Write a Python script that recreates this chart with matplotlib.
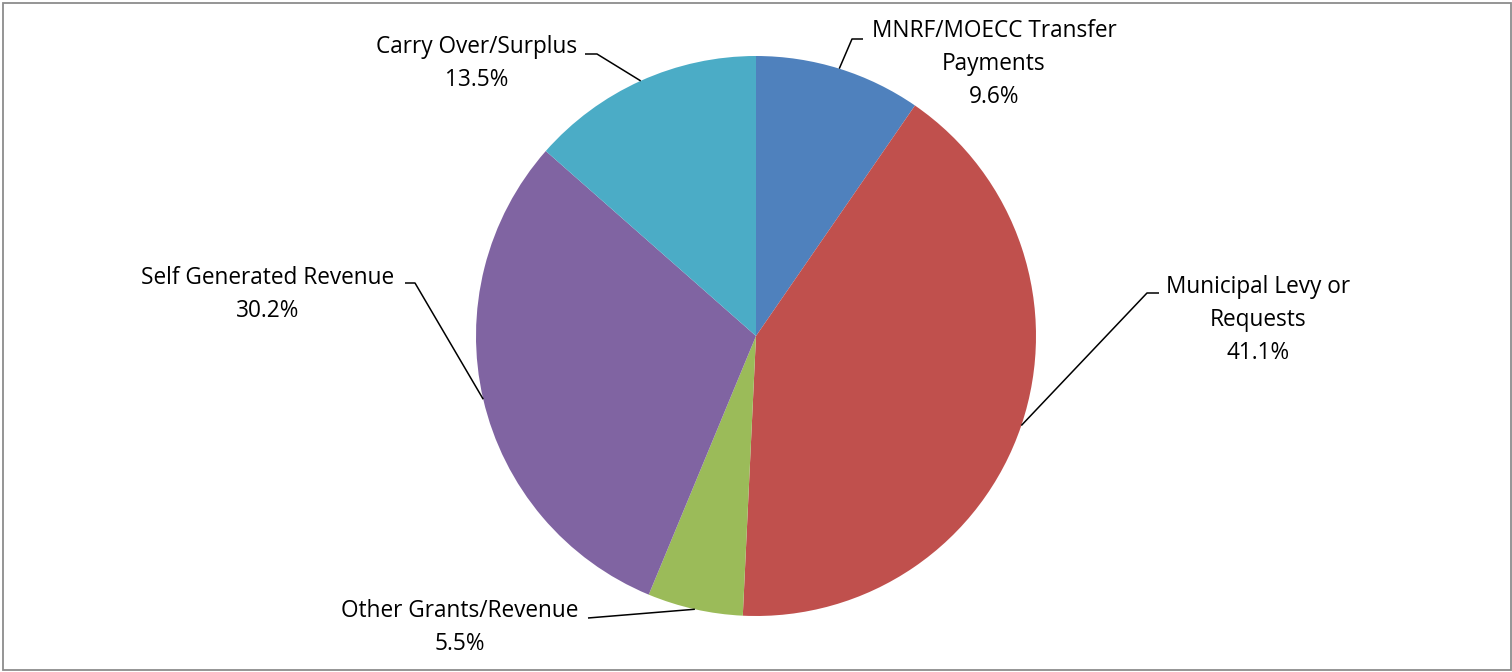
import numpy as np
import matplotlib
matplotlib.use("Agg")
import matplotlib.pyplot as plt
from matplotlib.patches import Rectangle

# ---- data ----
categories = ["MNRF/MOECC Transfer\nPayments", "Municipal Levy or\nRequests",
              "Other Grants/Revenue", "Self Generated Revenue", "Carry Over/Surplus"]
values = [9.6, 41.1, 5.5, 30.2, 13.5]
colors = ["#4F81BD", "#C0504D", "#9BBB59", "#8064A2", "#4BACC6"]

# ---- layout (pixel coordinates, y measured from top) ----
W, H = 1512, 672
center_px = (756, 336)
radius_px = 280
# elbow point of leader line, end of horizontal stub, text centre x, first baseline y
elbows = [(852, 39), (1147, 293), (588, 618), (415, 283), (597, 54)]
stubs = [(863, 39), (1159, 293), (588, 618), (405, 283), (585, 54)]
text_cx = [994, 1258, 460, 268, 477]
text_base = [37, 293, 617, 284, 53]
line_step = 33

plt.rcParams['font.family'] = ['Open Sans', 'DejaVu Sans']

fig = plt.figure(figsize=(W / 100, H / 100), dpi=100)
ax = fig.add_axes([0, 0, 1, 1])
ax.set_xlim(0, W)
ax.set_ylim(0, H)
ax.set_aspect('equal')
ax.axis('off')

def fy(y):
    return H - y

wedges, _ = ax.pie(values, colors=colors, startangle=90, counterclock=False,
                   center=(center_px[0], fy(center_px[1])), radius=radius_px,
                   wedgeprops=dict(linewidth=0), frame=False)
ax.set_xlim(0, W)
ax.set_ylim(0, H)

for i, w in enumerate(wedges):
    mid = np.deg2rad((w.theta1 + w.theta2) / 2)
    ex = w.center[0] + w.r * np.cos(mid)
    ey = w.center[1] + w.r * np.sin(mid)
    bx, by = elbows[i]
    sx, sy = stubs[i]
    ax.plot([ex, bx, sx], [ey, fy(by), fy(sy)], color='black', lw=1.1,
            solid_capstyle='butt', zorder=3)
    lines = categories[i].split("\n") + [f"{values[i]:.1f}%"]
    for k, line in enumerate(lines):
        ax.text(text_cx[i], fy(text_base[i] + k * line_step), line,
                ha='center', va='baseline', fontsize=16.3, color='black')

# outer frame
fig.patches.append(Rectangle((2.5 / W, 2.5 / H), (W - 4) / W, (H - 5) / H,
                             transform=fig.transFigure, fill=False,
                             edgecolor='#8c8c8c', linewidth=1.3))

fig.savefig("out.png", dpi=100, facecolor='white')
